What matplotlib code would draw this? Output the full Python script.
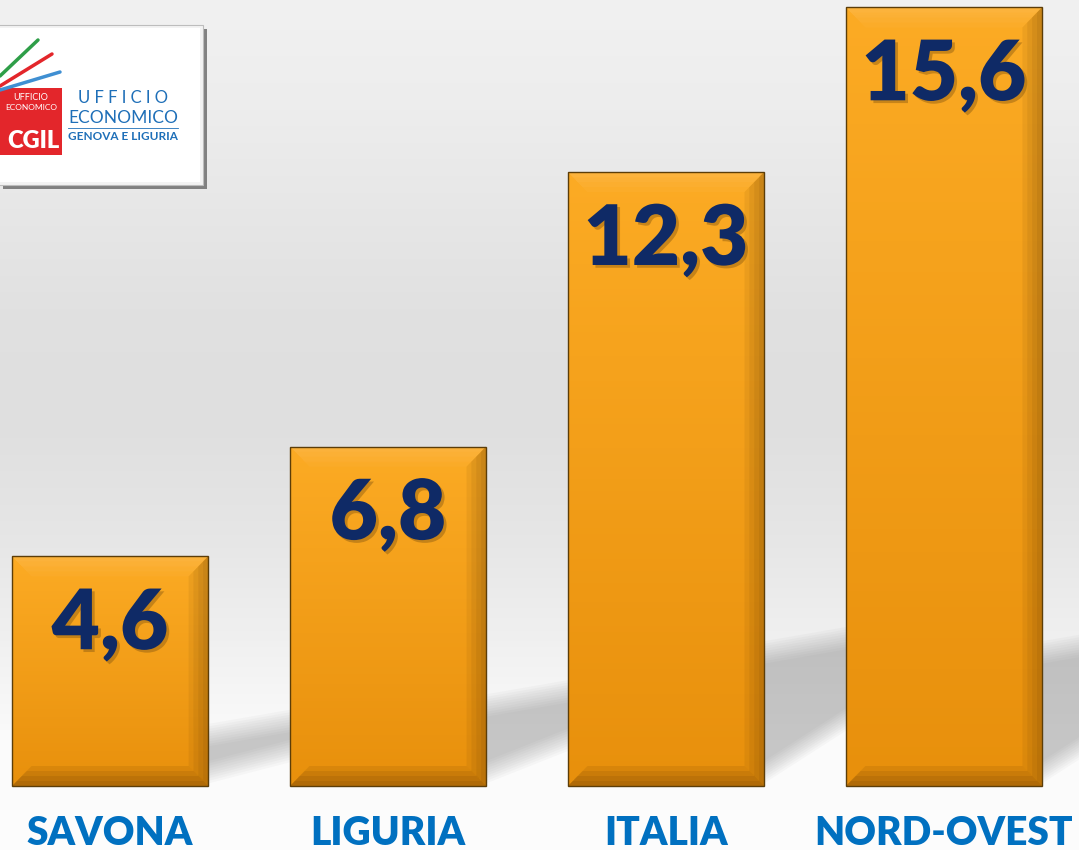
import numpy as np
import matplotlib.pyplot as plt
from matplotlib.patches import Rectangle, Polygon
import matplotlib.patheffects as pe

categories = ['SAVONA', 'LIGURIA', 'ITALIA', 'NORD-OVEST']
values = [4.6, 6.8, 12.3, 15.6]
value_labels = ['4,6', '6,8', '12,3', '15,6']

fig = plt.figure(figsize=(10.79, 8.5), dpi=100)
ax = fig.add_axes([0, 0, 1, 1])
ax.set_xlim(-0.396, 3.486)
ax.set_ylim(-1.283, 15.75)
ax.axis('off')

# background gradient
g = np.array([0.945, 0.93, 0.905, 0.88, 0.875, 0.90, 0.94, 0.985, 0.99])
grad = np.interp(np.linspace(0, 1, 256), np.linspace(0, 1, len(g)), g)
ax.imshow(np.dstack([grad, grad, grad])[:, None, :].reshape(256, 1, 3),
          extent=[-0.396, 3.486, -1.283, 15.75], aspect='auto', zorder=0)

w = 0.705
bx = 0.07
by = 0.4
x = np.arange(len(values))

for xi, v in zip(x, values):
    l, r = xi - w / 2, xi + w / 2
    # soft shadow cast to the right
    sh = min(v * 0.27, 2.9)
    lo = min(sh * 0.4, 1.2)
    for k in range(10):
        d = k * 0.05
        poly = Polygon([(r, 0.05 + d), (r, sh - d), (r + 0.31, sh + 0.3 - d),
                        (r + 0.31, lo + d)], closed=True, facecolor='#5a5a5a',
                       edgecolor='none', alpha=0.035, zorder=1)
        ax.add_patch(poly)
    # bar body with gradient
    bar = ax.bar(xi, v, width=w, color='none', edgecolor='#5c3d08', linewidth=1.0, zorder=3)[0]
    bg = np.linspace(0, 1, 100)
    c_top = np.array([0xFC, 0xAB, 0x24]) / 255
    c_bot = np.array([0xE8, 0x90, 0x0C]) / 255
    img = (c_bot[None, :] * bg[:, None] + c_top[None, :] * (1 - bg[:, None]))
    im = ax.imshow(img[:, None, :], extent=[l, r, 0, v], aspect='auto', zorder=2)
    im.set_clip_path(bar)
    # soft bevels, several thin layers so the edge fades inward
    for k in range(4):
        f = (k + 1) / 4
        bxx, byy = bx * f, by * f
        ax.add_patch(Polygon([(l, v), (r, v), (r - bxx, v - byy), (l + bxx, v - byy)],
                             facecolor='white', alpha=0.03, edgecolor='none', zorder=2.5))
        ax.add_patch(Polygon([(r, 0), (r, v), (r - bxx, v - byy), (r - bxx, byy)],
                             facecolor='#3a2000', alpha=0.07, edgecolor='none', zorder=2.5))
        ax.add_patch(Polygon([(l, 0), (r, 0), (r - bxx, byy), (l + bxx, byy)],
                             facecolor='#3a2000', alpha=0.09, edgecolor='none', zorder=2.5))

for xi, v, lab in zip(x, values, value_labels):
    ax.text(xi, v - 1.86, lab, ha='center', va='baseline', fontsize=60, family='Lato',
            fontweight='heavy', color='#0F2A66', zorder=5,
            path_effects=[pe.withSimplePatchShadow(offset=(2, -2), shadow_rgbFace='#8a5a10', alpha=0.45)])

for xi, cat in zip(x, categories):
    ax.text(xi, -1.18, cat, ha='center', va='baseline', fontsize=28, family='Lato',
            fontweight='heavy', color='#0070C0', zorder=5)

# logo
lx = fig.add_axes([0, (850 - 190) / 850, 210 / 1079, 168 / 850])
lx.set_xlim(0, 210)
lx.set_ylim(190, 22)
lx.axis('off')
lx.add_patch(Rectangle((3, 29), 204, 160, facecolor='#6f6f6f', edgecolor='none', alpha=0.85))
lx.add_patch(Rectangle((-2, 25), 205, 160, facecolor='#f3f3f3', edgecolor='#bdbdbd', linewidth=0.8))
lx.add_patch(Rectangle((0, 28), 200, 154, facecolor='white', edgecolor='none'))
lx.add_patch(Rectangle((0, 88), 62, 67, facecolor='#E3262B', edgecolor='none'))
lx.plot([0, 38], [76, 40], color='#2E9E48', lw=2.5, solid_capstyle='round')
lx.plot([0, 52], [86, 54], color='#E3262B', lw=2.5, solid_capstyle='round')
lx.plot([0, 60], [90, 72], color='#3F8FD2', lw=2.5, solid_capstyle='round')
lx.text(31, 98, 'UFFICIO', ha='center', va='center', fontsize=6.5, color='white', family='Lato')
lx.text(31, 108, 'ECONOMICO', ha='center', va='center', fontsize=6, color='white', family='Lato')
lx.text(33, 141, 'CGIL', ha='center', va='center', fontsize=17, color='white', family='Lato',
        fontweight='heavy')
lx.text(123, 98, 'U F F I C I O', ha='center', va='center', fontsize=12, color='#1E6FB8', family='Lato')
lx.text(123, 118, 'ECONOMICO', ha='center', va='center', fontsize=12.5, color='#1E6FB8', family='Lato')
lx.plot([68, 178], [128, 128], color='#1E6FB8', lw=0.6)
lx.text(123, 137, 'GENOVA E LIGURIA', ha='center', va='center', fontsize=8.5, color='#1E6FB8',
        family='Lato', fontweight='bold')

fig.savefig('out.png', dpi=100)
